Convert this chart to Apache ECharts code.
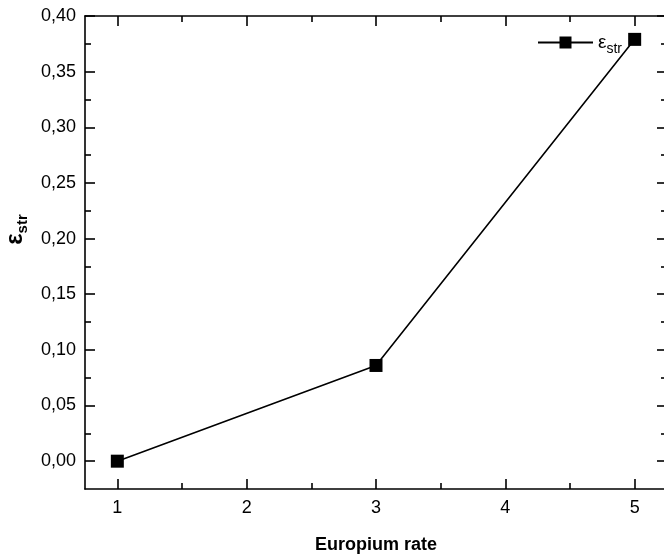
<!DOCTYPE html>
<html>
<head>
<meta charset="utf-8">
<script src="https://cdn.jsdelivr.net/npm/echarts@6/dist/echarts.min.js"></script>
<style>html,body{margin:0;padding:0;background:#fff}#c{width:664px;height:555px}</style>
</head>
<body>
<div id="c"></div>
<script>
var europiumRate = [1, 3, 5];
var epsStr = [0.000, 0.086, 0.379];
var xMajorTicks = [1, 2, 3, 4, 5];
var xMinorTicks = [1.5, 2.5, 3.5, 4.5];
var yMajorTicks = [0, 0.05, 0.10, 0.15, 0.20, 0.25, 0.30, 0.35, 0.40];
var yMinorTicks = [0.025, 0.075, 0.125, 0.175, 0.225, 0.275, 0.325, 0.375];

var FONT = "'Liberation Sans', Arial, sans-serif";
var chart = echarts.init(document.getElementById('c'), null, {renderer: 'canvas'});

function xAx(pos, ticks, len, labels, lineShow, extra) {
  var a = {
    type: 'value', min: 0.75, max: 5.25, position: pos,
    axisLine: {show: lineShow, onZero: false, lineStyle: {color: '#000', width: 1.6}},
    axisTick: {show: true, inside: true, length: len, customValues: ticks, lineStyle: {color: '#000', width: 1.6}},
    axisLabel: labels ? {show: true, customValues: ticks, fontSize: 18, color: '#000', fontFamily: FONT, margin: 10} : {show: false},
    splitLine: {show: false}
  };
  return Object.assign(a, extra || {});
}
function yAx(pos, ticks, len, labels, lineShow, extra) {
  var a = {
    type: 'value', min: -0.025, max: 0.40, position: pos,
    axisLine: {show: lineShow, onZero: false, lineStyle: {color: '#000', width: 1.6}},
    axisTick: {show: true, inside: true, length: len, customValues: ticks, lineStyle: {color: '#000', width: 1.6}},
    axisLabel: labels ? {show: true, customValues: ticks, fontSize: 18, color: '#000', fontFamily: FONT, margin: 9,
      formatter: function (v) { return v.toFixed(2).replace('.', ','); }} : {show: false},
    splitLine: {show: false}
  };
  return Object.assign(a, extra || {});
}

chart.setOption({
  animation: false,
  backgroundColor: '#fff',
  grid: {left: 85, top: 16, width: 582, height: 473, containLabel: false, outerBoundsMode: 'none'},
  legend: {
    left: 532, top: 28, itemWidth: 55, itemHeight: 15,
    data: [{name: 'eps'}],
    formatter: function () { return '{a|ε}{b|str}'; },
    textStyle: {
      color: '#000', fontFamily: FONT,
      rich: {
        a: {fontSize: 19, fontFamily: FONT, color: '#000'},
        b: {fontSize: 14, fontFamily: FONT, color: '#000', padding: [13, 0, 0, 0]}
      }
    }
  },
  xAxis: [
    xAx('bottom', xMajorTicks, 10, true, true, {
      name: 'Europium rate', nameLocation: 'middle', nameGap: 47,
      nameTextStyle: {fontSize: 18, fontWeight: 'bold', color: '#000', fontFamily: FONT}
    }),
    xAx('bottom', xMinorTicks, 6, false, false),
    xAx('top', xMajorTicks, 10, false, true),
    xAx('top', xMinorTicks, 6, false, false)
  ],
  yAxis: [
    yAx('left', yMajorTicks, 10, true, true, {
      name: '{a|ε}{b|str}', nameLocation: 'middle', nameGap: 55, nameRotate: 90,
      nameTextStyle: {
        color: '#000', fontFamily: FONT, padding: [0, 0, 0, 46],
        rich: {
          a: {fontSize: 24, fontWeight: 'bold', fontFamily: FONT, color: '#000'},
          b: {fontSize: 15, fontWeight: 'bold', fontFamily: FONT, color: '#000', padding: [14, 0, 0, 0]}
        }
      }
    }),
    yAx('left', yMinorTicks, 6, false, false),
    yAx('right', yMajorTicks, 10, false, true),
    yAx('right', yMinorTicks, 6, false, false)
  ],
  series: [{
    name: 'eps', type: 'line', xAxisIndex: 0, yAxisIndex: 0,
    data: europiumRate.map(function (x, i) { return [x, epsStr[i]]; }),
    symbol: 'rect', symbolSize: 13,
    lineStyle: {color: '#000', width: 1.6},
    itemStyle: {color: '#000'},
    emphasis: {disabled: true}
  }]
});
</script>
</body>
</html>
